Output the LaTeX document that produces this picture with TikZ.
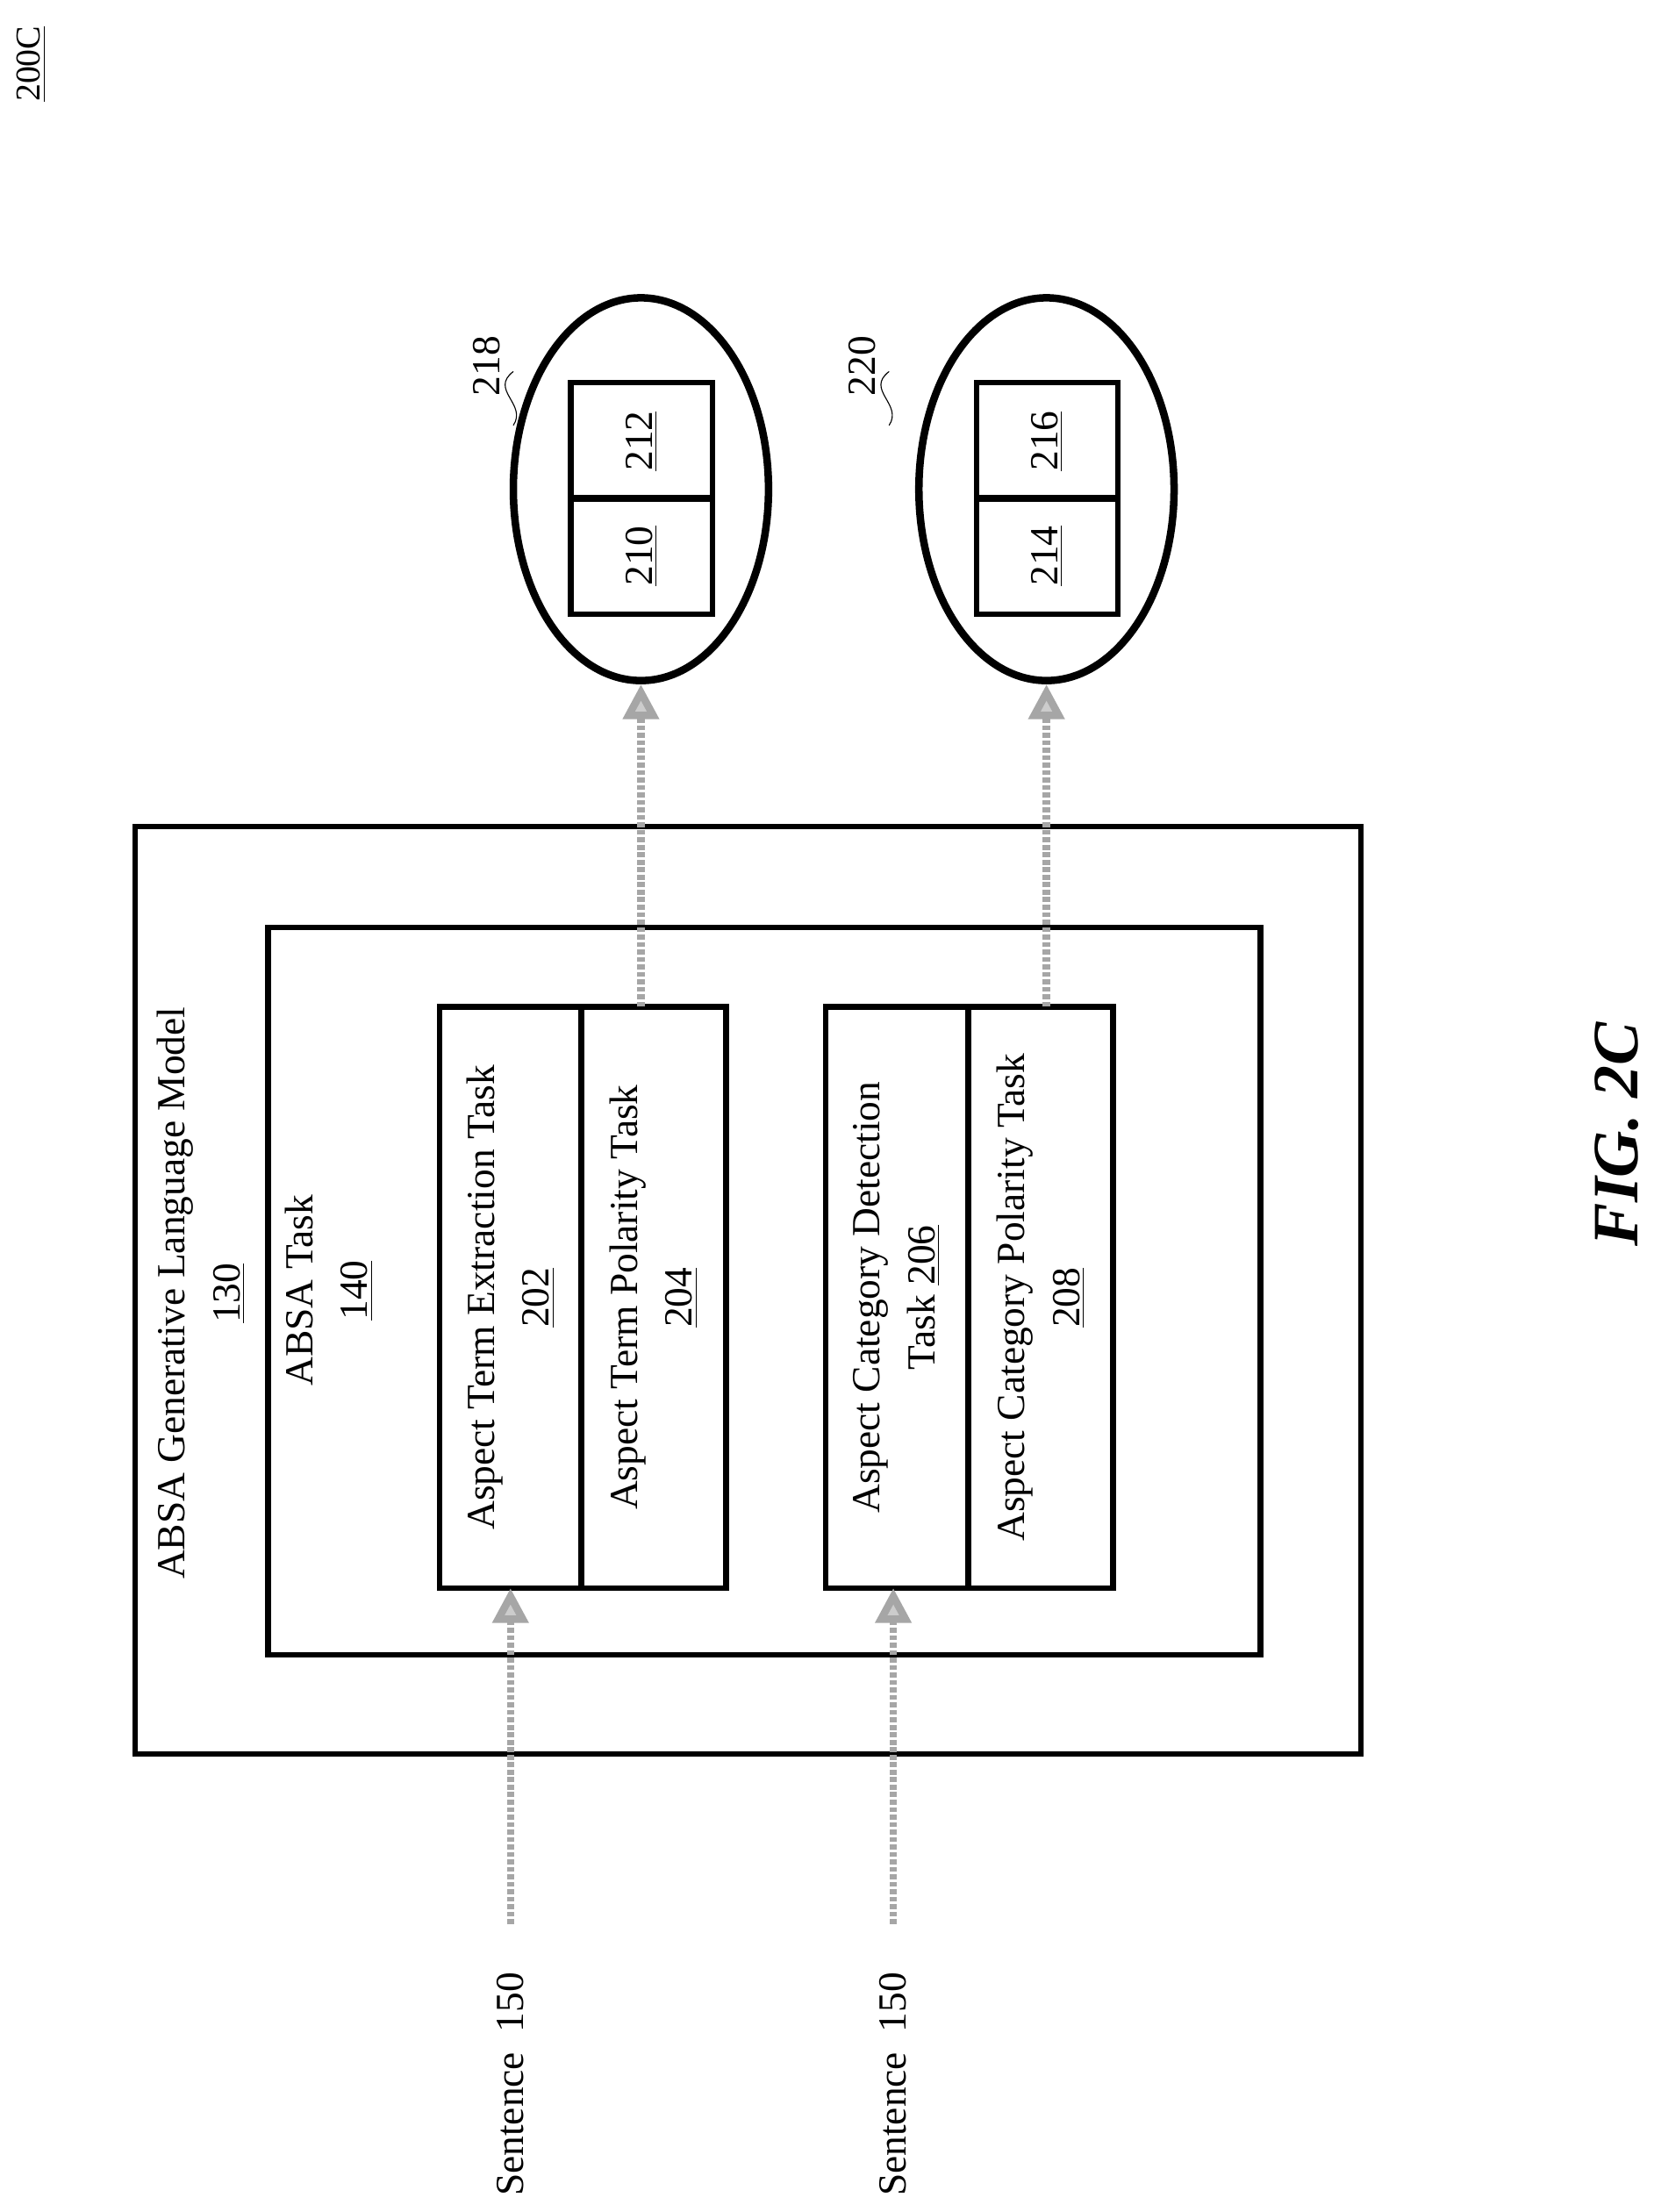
\documentclass[tikz,border=0pt]{standalone}
\usepackage{fontspec}
\setmainfont{Liberation Serif}
\usepackage{tikz}
\usetikzlibrary{arrows.meta,shapes.geometric}

\tikzset{
  lbl/.style={rotate=90, align=center, font=\fontsize{16}{22}\selectfont},
  box/.style={draw, line width=2.2pt},
  flow/.style={draw=gray!70, line width=3pt, dash pattern=on 2pt off 1pt,
    -{Triangle[open, length=14pt, width=14pt, fill=gray!40]}},
}

\begin{document}
\begin{tikzpicture}[x=0.02cm, y=-0.02cm]
\useasboundingbox (0,0) rectangle (1166,1560);

\node[lbl, font=\fontsize{14}{16}\selectfont] (fig) at (22,45) {\underline{200C}};

% model and task frames
\node[box, minimum width=17.3cm, minimum height=13.08cm] (model) at (527.5,910) {};
\node[box, minimum width=14cm, minimum height=10.26cm] (task) at (539,910.5) {};
\node[lbl] (modeltxt) at (142,912) {ABSA Generative Language Model\\\underline{130}};
\node[lbl] (tasktxt) at (232,910) {ABSA Task\\\underline{140}};

% task boxes
\node[box, minimum width=2cm, minimum height=8.2cm] (ate) at (360,915) {};
\node[box, minimum width=2.04cm, minimum height=8.2cm] (atp) at (461,915) {};
\node[box, minimum width=2cm, minimum height=8.2cm] (acd) at (632.5,915) {};
\node[box, minimum width=2.04cm, minimum height=8.2cm] (acp) at (734,915) {};
\node[lbl] at (ate) {Aspect Term Extraction Task\\\underline{202}};
\node[lbl] at (atp) {Aspect Term Polarity Task\\\underline{204}};
\node[lbl] at (acd) {Aspect Category Detection\\Task \underline{206}};
\node[lbl] at (acp) {Aspect Category Polarity Task\\\underline{208}};

% inputs
\node[lbl, anchor=west] (s1) at (360,1555) {Sentence\ \ 150};
\node[lbl, anchor=west] (s2) at (630,1555) {Sentence\ \ 150};
\coordinate (in1) at (360,1357);
\coordinate (in2) at (630,1357);
\draw[flow] (in1) -- (360,1120);
\draw[flow] (in2) -- (630,1120);

% outputs
\node[draw, ellipse, line width=3pt, minimum width=3.6cm, minimum height=5.4cm] (o1) at (452,345) {};
\node[draw, ellipse, line width=3pt, minimum width=3.6cm, minimum height=5.4cm] (o2) at (738,345) {};
\draw[flow] (452,710) -- (o1.south);
\draw[flow] (738,710) -- (o2.south);

\node[box, minimum width=2cm, minimum height=1.64cm] (b210) at (452.5,392) {};
\node[box, minimum width=2cm, minimum height=1.64cm] (b212) at (452.5,311) {};
\node[box, minimum width=2cm, minimum height=1.64cm] (b214) at (738.5,392) {};
\node[box, minimum width=2cm, minimum height=1.64cm] (b216) at (738.5,311) {};
\node[lbl] at (b210) {\underline{210}};
\node[lbl] at (b212) {\underline{212}};
\node[lbl] at (b214) {\underline{214}};
\node[lbl] at (b216) {\underline{216}};

\node[lbl] (n218) at (343,258) {218};
\node[lbl] (n220) at (608,258) {220};
\draw[thin] (362,262) .. controls (345,275) and (372,285) .. (362,300);
\draw[thin] (627,262) .. controls (610,275) and (637,285) .. (627,300);

\node[lbl, font=\fontsize{26}{30}\selectfont\bfseries\itshape] (title) at (1140,800) {FIG. 2C};
\end{tikzpicture}
\end{document}
